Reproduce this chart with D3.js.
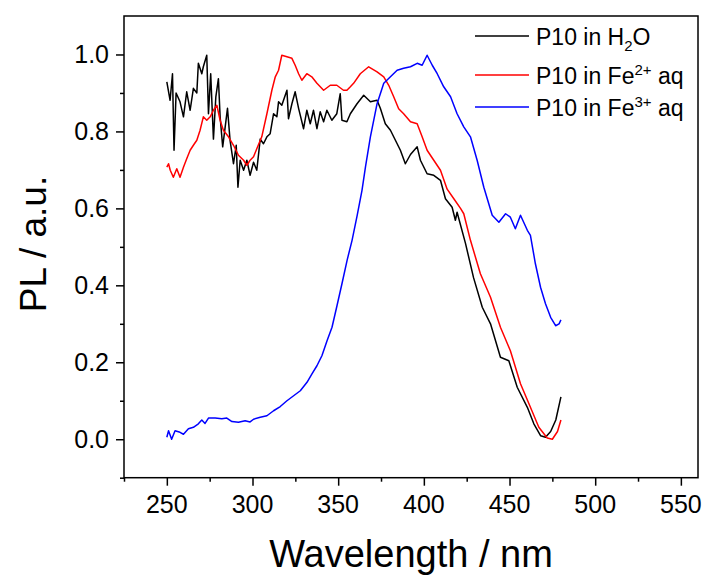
<!DOCTYPE html>
<html>
<head>
<meta charset="utf-8">
<script src="https://cdn.jsdelivr.net/npm/d3@7"></script>
<style>
  body{margin:0;background:#fff;}
  svg{display:block;font-family:Arial,"Liberation Sans",sans-serif;}
</style>
</head>
<body>
<svg id="chart" width="705" height="577"></svg>
<script>
// wavelength (nm) / PL (a.u.)
const h2oX = [250,251.9,253.3,254.2,255.4,257.7,259.7,261.6,263.6,265.5,267.5,268.4,270.4,271.3,273.3,274.3,275.6,277.2,278.6,280.1,281.1,282.6,285.4,286.9,288.9,290.5,291.5,292.8,294.8,296.7,298.6,300.6,302.5,304.5,306.4,308.4,310.3,312.3,314.2,315.2,317.1,320.1,321,323,324.9,326.9,329.8,331.7,333.7,335.6,337.6,339.5,341.5,343.4,346.3,349.2,351.2,352.2,355.1,357.1,361,364.9,368.8,372.7,374.6,377.5,380.5,383.4,386.3,389.2,392.2,396.1,398,401.9,405.8,409.7,412.6,416.5,418.4,419.4,424.3,429,434.1,438.9,444.7,449.6,454.5,460.4,464.2,468.2,471,474,477,480];
const h2oY = [0.929,0.881,0.95,0.751,0.90,0.877,0.838,0.903,0.855,0.912,0.90,0.977,0.95,0.968,0.998,0.846,0.95,0.78,0.89,0.937,0.838,0.76,0.86,0.777,0.716,0.764,0.655,0.725,0.699,0.725,0.686,0.72,0.699,0.78,0.768,0.786,0.794,0.846,0.838,0.877,0.868,0.907,0.833,0.872,0.903,0.86,0.807,0.855,0.82,0.855,0.807,0.851,0.825,0.855,0.829,0.846,0.898,0.829,0.825,0.846,0.872,0.894,0.877,0.881,0.86,0.82,0.803,0.777,0.751,0.716,0.74,0.76,0.725,0.69,0.686,0.673,0.625,0.603,0.569,0.59,0.509,0.42,0.343,0.30,0.213,0.204,0.135,0.083,0.04,0.009,0.005,0.02,0.05,0.11];

const fe2X = [250,251,252,253.8,255.8,257.7,259.7,261.6,263.6,265.5,267.5,269.4,271.3,273.3,275.3,277.2,279.2,281.1,283,286,288.9,291.8,294.8,296.7,298.6,300.6,302.5,305.4,308.4,311.3,313.3,315.2,317.1,320.1,323,324.9,326.9,328.8,331.7,334.6,337.6,341.5,345.4,349.2,353.1,355.1,357.1,359,362.9,367.8,372.7,376.6,379.5,382.4,385.3,388.2,392.2,396.1,399,401.9,405.8,409.7,413.6,417.5,421.4,423.3,427.2,433,438.9,444.7,450.5,456.4,462.2,467.1,472,475,478,480];
const fe2Y = [0.707,0.716,0.699,0.681,0.703,0.681,0.707,0.729,0.751,0.764,0.777,0.803,0.838,0.829,0.838,0.855,0.868,0.829,0.803,0.786,0.764,0.738,0.725,0.712,0.725,0.734,0.755,0.786,0.846,0.907,0.942,0.959,0.998,0.994,0.99,0.972,0.95,0.933,0.95,0.942,0.925,0.907,0.92,0.92,0.907,0.907,0.916,0.925,0.95,0.968,0.955,0.942,0.92,0.89,0.859,0.846,0.825,0.82,0.786,0.751,0.725,0.699,0.65,0.625,0.6,0.586,0.517,0.43,0.369,0.291,0.23,0.144,0.083,0.031,0.003,0.0,0.02,0.05];

const fe3X = [250,251,252.8,254.8,257.7,259.7,262.6,265.5,268.4,270.4,272.3,274.3,278.2,282.1,285,288,291.8,295.7,298.6,300.6,304.5,308.4,312.3,316.2,320.1,324,327.9,331.8,334.7,337.6,340.5,343.5,346.4,349.3,352.2,355.2,358.1,361,363.9,366,368.8,372.7,376.6,380.5,384.4,388.2,392.2,396.1,399,401.9,404.9,407.8,411.6,415.6,419.4,423.3,427.2,431.1,435,439.9,443.8,447.7,450.5,453.4,456.4,460.4,462.2,465.1,468.1,471,474,476.9,478.9,480];
const fe3Y = [0.005,0.022,0.0,0.022,0.018,0.013,0.027,0.031,0.04,0.05,0.041,0.055,0.055,0.053,0.055,0.046,0.044,0.048,0.045,0.052,0.057,0.061,0.074,0.085,0.10,0.113,0.126,0.148,0.17,0.191,0.217,0.256,0.291,0.347,0.404,0.465,0.517,0.58,0.647,0.71,0.786,0.872,0.925,0.942,0.959,0.964,0.968,0.977,0.972,0.998,0.972,0.95,0.916,0.89,0.846,0.812,0.786,0.725,0.655,0.582,0.564,0.586,0.577,0.547,0.582,0.543,0.53,0.456,0.395,0.352,0.317,0.295,0.30,0.31];

const xTicks = [250,300,350,400,450,500,550];
const yTicks = [0,0.2,0.4,0.6,0.8,1.0];

const series = [
  {name:'h2o', xs:h2oX, ys:h2oY, color:'#000000'},
  {name:'fe2', xs:fe2X, ys:fe2Y, color:'#ff0000'},
  {name:'fe3', xs:fe3X, ys:fe3Y, color:'#0000ff'}
];

const svg = d3.select('#chart');
const L = 124, R = 698, T = 16, B = 477.7;

const x = d3.scaleLinear().domain([225,560]).range([L,R]);
const y = d3.scaleLinear().domain([-0.1,1.1]).range([B,T]);

// frame
svg.append('rect').attr('x',L).attr('y',T).attr('width',R-L).attr('height',B-T)
  .attr('fill','none').attr('stroke','#000').attr('stroke-width',1.5);

// x axis
const xAxis = svg.append('g').attr('transform','translate(0,'+B+')')
  .call(d3.axisBottom(x).tickValues(d3.range(225,561,25)).tickSize(4).tickFormat(''));
xAxis.selectAll('line').filter(d=>xTicks.includes(d)).attr('y2',8);
xAxis.selectAll('text').remove();
xAxis.select('.domain').remove();
xAxis.selectAll('line').attr('stroke','#000').attr('stroke-width',1.5);
svg.append('g').selectAll('text').data(xTicks).enter().append('text')
  .attr('x',d=>x(d)).attr('y',513).attr('text-anchor','middle')
  .attr('font-size',25).text(d=>d);

// y axis
const yAxis = svg.append('g').attr('transform','translate('+L+',0)')
  .call(d3.axisLeft(y).tickValues(d3.range(-1,11).map(i=>i/10)).tickSize(4).tickFormat(''));
yAxis.selectAll('line').filter(d=>yTicks.some(t=>Math.abs(t-d)<1e-9)).attr('x2',-8);
yAxis.selectAll('text').remove();
yAxis.select('.domain').remove();
yAxis.selectAll('line').attr('stroke','#000').attr('stroke-width',1.5);
svg.append('g').selectAll('text').data(yTicks).enter().append('text')
  .attr('x',L-15).attr('y',d=>y(d)).attr('dy','0.35em').attr('text-anchor','end')
  .attr('font-size',25).text(d=>d.toFixed(1));

// curves
const line = d3.line().x(d=>x(d[0])).y(d=>y(d[1]));
series.forEach(s=>{
  svg.append('path').datum(s.xs.map((v,i)=>[v,s.ys[i]]))
    .attr('d',line).attr('fill','none').attr('stroke',s.color)
    .attr('stroke-width',1.5).attr('stroke-linejoin','round');
});

// axis titles
svg.append('text').attr('x',(L+R)/2).attr('y',567).attr('text-anchor','middle')
  .attr('font-size',38).text('Wavelength / nm');
svg.append('text').attr('transform','translate(46,244) rotate(-90)')
  .attr('text-anchor','middle').attr('font-size',37).text('PL / a.u.');

// legend
const legend = [
  {color:'#000000', parts:[['P10 in H',''],['2','sub'],['O','']]},
  {color:'#ff0000', parts:[['P10 in Fe',''],['2+','sup'],[' aq','']]},
  {color:'#0000ff', parts:[['P10 in Fe',''],['3+','sup'],[' aq','']]}
];
const legY = [36,75,107];
legend.forEach((l,i)=>{
  svg.append('line').attr('x1',475).attr('x2',529).attr('y1',legY[i]).attr('y2',legY[i])
    .attr('stroke',l.color).attr('stroke-width',1.5);
  const t = svg.append('text').attr('x',536).attr('y',legY[i]+9).attr('font-size',23);
  l.parts.forEach(p=>{
    const ts = t.append('tspan').text(p[0]);
    if(p[1]==='sub') ts.attr('font-size',15).attr('dy',6);
    else if(p[1]==='sup') ts.attr('font-size',15).attr('dy',-9);
    else if(p[0]!=='P10 in H' && p[0]!=='P10 in Fe') ts.attr('dy', l.parts[1][1]==='sub' ? -6 : 9);
  });
});
</script>
</body>
</html>
